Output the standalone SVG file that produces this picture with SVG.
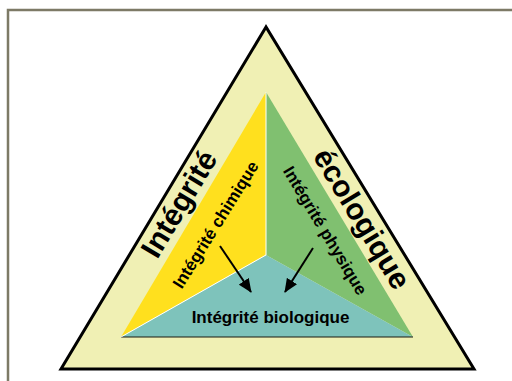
<svg xmlns="http://www.w3.org/2000/svg" width="512" height="381" viewBox="0 0 512 381">
  <style>
    .t { font-family: "Liberation Sans", Arial, sans-serif; font-weight: bold; fill: #000; text-anchor: middle; }
    .big { font-size: 30px; }
    .mid { font-size: 17px; }
    .arrow { stroke: #000; stroke-width: 2; fill: none; marker-end: url(#ah); }
  </style>
  <defs>
    <marker id="ah" viewBox="0 0 14 12" refX="13" refY="6" markerWidth="14" markerHeight="12" markerUnits="userSpaceOnUse" orient="auto">
      <path d="M0,0 L14,6 L0,12 Z" fill="#000"/>
    </marker>
  </defs>
  <rect width="512" height="381" fill="#fff"/>
  <path d="M8,381 V10 H512" fill="none" stroke="#7d7a66" stroke-width="2.5"/>

  <g id="outer">
    <polygon points="266,27 61,369 474,369" fill="#f0f0b4" stroke="#000" stroke-width="3" stroke-linejoin="miter"/>
    <text class="t big" transform="translate(187.8,209.2) rotate(-59)">Intégrité</text>
    <text class="t big" transform="translate(353.3,224) rotate(58.7)">écologique</text>
  </g>

  <g id="chimique">
    <polygon points="266,92 266,255 121,337" fill="#ffe01e"/>
    <text class="t mid" transform="translate(220.5,227.7) rotate(-58)">Intégrité chimique</text>
  </g>

  <g id="physique">
    <polygon points="266,92 413,337 266,255" fill="#80c070"/>
    <text class="t mid" transform="translate(320.2,233.6) rotate(59)">Intégrité physique</text>
  </g>

  <g id="biologique">
    <polygon points="266,255 413,337 121,337" fill="#7ec3bb"/>
    <line x1="121" y1="337" x2="413" y2="337" stroke="#1a1a10" stroke-width="1.2"/>
    <text class="t mid" x="270.5" y="323">Intégrité biologique</text>
  </g>

  <g id="separators" stroke="#fff" stroke-width="1">
    <line x1="266" y1="92" x2="266" y2="255"/>
    <line x1="266" y1="255" x2="121" y2="337"/>
  </g>

  <g id="connectors">
    <line class="arrow" x1="220" y1="246" x2="251" y2="292"/>
    <line class="arrow" x1="313" y1="248" x2="285" y2="292"/>
  </g>
</svg>
